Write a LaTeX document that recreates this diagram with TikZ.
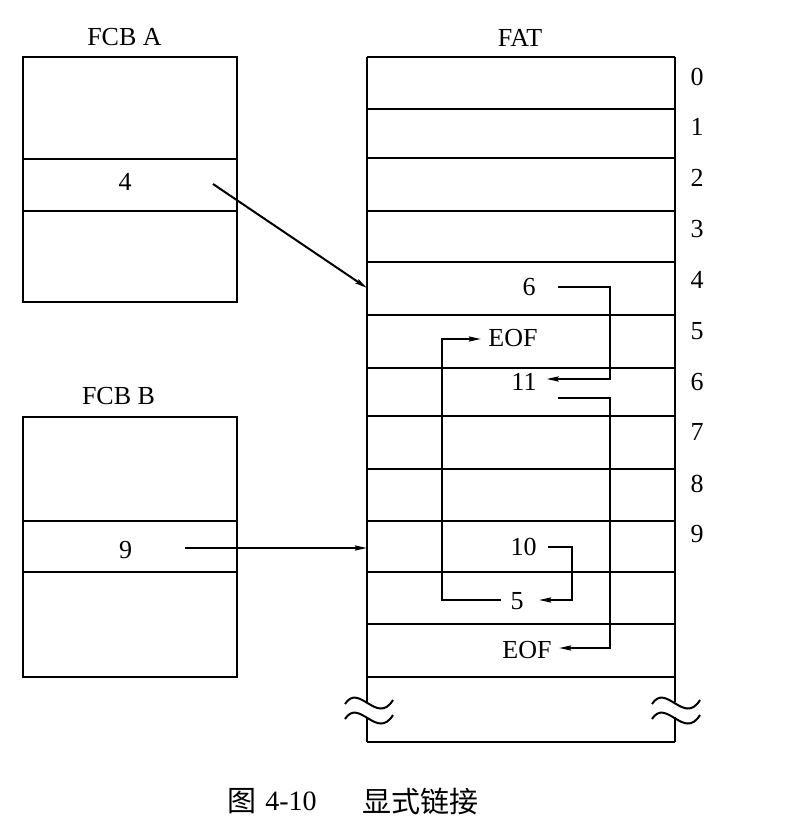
\documentclass[tikz,border=0pt]{standalone}
\usepackage{fontspec}
\setmainfont{Liberation Serif}
\newfontfamily\cjk{Noto Sans CJK SC}
\usetikzlibrary{arrows.meta}
\begin{document}
\begin{tikzpicture}[x=1pt,y=-1pt,
  line width=2pt,
  txt/.style={inner sep=0pt,font=\fontsize{26}{30}\selectfont},
  arr/.style={line width=2pt,-{Stealth[length=12pt,width=5pt,inset=1.5pt]}},
  boxline/.style={line width=2pt},
  wave/.style={line width=2pt}]
\useasboundingbox (0,0) rectangle (804,837);

% ---------- FCB A ----------
\node[txt] (lblA) at (124.5,37.5) {FCB A};
\draw[boxline] (23,57) rectangle (237,302);
\draw[boxline] (23,159) -- (237,159);
\draw[boxline] (23,211) -- (237,211);
\node[txt] (n4) at (125,181.5) {4};

% ---------- FCB B ----------
\node[txt] (lblB) at (118.5,396) {FCB B};
\draw[boxline] (23,417) rectangle (237,677);
\draw[boxline] (23,521) -- (237,521);
\draw[boxline] (23,572) -- (237,572);
\node[txt] (n9) at (125.5,550) {9};

% ---------- FAT ----------
\node[txt] (lblFAT) at (520,37.5) {FAT};
\draw[boxline] (367,57) -- (675,57);
\foreach \yy in {109,158,211,262,315,368,416,469,521,572,624,677}
  \draw[boxline] (367,\yy) -- (675,\yy);
\draw[boxline] (367,742) -- (675,742);
\draw[boxline] (367,57) -- (367,702);
\draw[boxline] (367,717) -- (367,742);
\draw[boxline] (675,57) -- (675,702);
\draw[boxline] (675,717) -- (675,742);

% break marks
\foreach \xx in {345,652}{
  \draw[wave] (\xx,704) .. controls (\xx+14,682) and (\xx+32,726) .. (\xx+48,700);
  \draw[wave] (\xx,719) .. controls (\xx+14,697) and (\xx+32,741) .. (\xx+48,715);
}

% row numbers
\node[txt] (r0) at (697,77) {0};
\node[txt] (r1) at (697,127) {1};
\node[txt] (r2) at (697,178) {2};
\node[txt] (r3) at (697,229) {3};
\node[txt] (r4) at (697,280) {4};
\node[txt] (r5) at (697,331) {5};
\node[txt] (r6) at (697,382) {6};
\node[txt] (r7) at (697,432) {7};
\node[txt] (r8) at (697,484) {8};
\node[txt] (r9) at (697,534) {9};

% FAT entries
\node[txt] (n6) at (529,287) {6};
\node[txt] (eofA) at (513,338) {EOF};
\node[txt] (n11) at (524,382) {11};
\node[txt] (n10) at (523.5,547) {10};
\node[txt] (n5) at (517,601) {5};
\node[txt] (eofB) at (527,650) {EOF};

\coordinate (fatA) at (367,288);
\coordinate (fatB) at (367,548);

% pointers from FCBs
\draw[arr] ([xshift=80.5pt,yshift=-2.5pt]n4.east) -- (fatA);
\draw[arr] ([xshift=52pt,yshift=2pt]n9.east) -- (fatB);

% chains
\draw[arr] ([xshift=21.5pt]n6.east) -- ++(52pt,0pt) |- ([xshift=9pt,yshift=3pt]n11.east);
\draw[arr] ([xshift=20pt,yshift=-16pt]n11.east) -- ++(52pt,0pt) |- ([xshift=6.5pt,yshift=2pt]eofB.east);
\draw[arr] ([xshift=10.5pt]n10.east) -- ++(24pt,0pt) |- ([xshift=14.5pt,yshift=1pt]n5.east);
\draw[arr] ([xshift=-8.5pt,yshift=1pt]n5.west) -- ++(-59pt,0pt) |- ([xshift=-6.5pt,yshift=-1pt]eofA.west);

% caption
\node[inner sep=0pt,font=\cjk\fontsize{29}{32}\selectfont] (capA) at (242,801) {图};
\node[inner sep=0pt,font=\fontsize{28}{32}\selectfont] (capB) at (291,801) {4-10};
\node[inner sep=0pt,font=\cjk\fontsize{29}{32}\selectfont] (capC) at (420,801) {显式链接};
\end{tikzpicture}
\end{document}
